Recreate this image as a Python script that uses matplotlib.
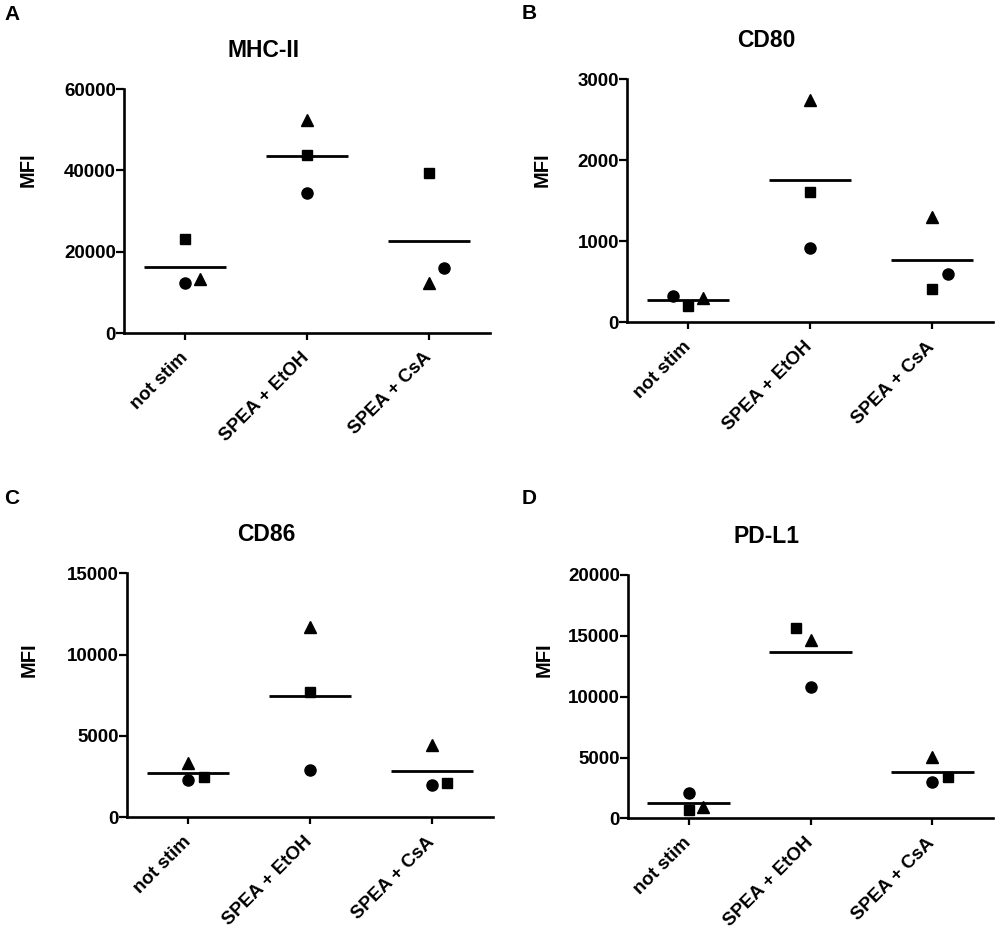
import numpy as np
from matplotlib import pyplot as plt

plt.rcParams['font.family'] = ['Liberation Sans', 'DejaVu Sans']
plt.rcParams['font.weight'] = 'bold'

groups = ['not stim', 'SPEA + EtOH', 'SPEA + CsA']

# MFI values per donor (circle, square, triangle) for each group
mhc_circle = [12200, 34500, 16100]
mhc_square = [23100, 43800, 39300]
mhc_triangle = [13200, 52400, 12400]

cd80_circle = [325, 912, 592]
cd80_square = [205, 1603, 411]
cd80_triangle = [303, 2742, 1302]

cd86_circle = [2290, 2910, 1990]
cd86_square = [2500, 7690, 2090]
cd86_triangle = [3320, 11690, 4450]

pdl1_circle = [2050, 10770, 3010]
pdl1_square = [700, 15620, 3420]
pdl1_triangle = [950, 14660, 5065]

mhc_ticks = [0, 20000, 40000, 60000]
cd80_ticks = [0, 1000, 2000, 3000]
cd86_ticks = [0, 5000, 10000, 15000]
pdl1_ticks = [0, 5000, 10000, 15000, 20000]

panels = [
    ('A', 'MHC-II', mhc_circle, mhc_square, mhc_triangle, mhc_ticks),
    ('B', 'CD80', cd80_circle, cd80_square, cd80_triangle, cd80_ticks),
    ('C', 'CD86', cd86_circle, cd86_square, cd86_triangle, cd86_ticks),
    ('D', 'PD-L1', pdl1_circle, pdl1_square, pdl1_triangle, pdl1_ticks),
]

# layout: axes rectangles, letter positions, y label positions, point nudges
rects = [
    [0.124, 0.6423, 0.366, 0.2621],
    [0.627, 0.6538, 0.366, 0.2613],
    [0.127, 0.1221, 0.366, 0.2621],
    [0.628, 0.1210, 0.365, 0.2614],
]
letter_pos = [(0.012, 0.984), (0.529, 0.985), (0.012, 0.465), (0.529, 0.465)]
ylabel_pos = [(-0.235, 0.668), (-0.205, 0.626), (-0.242, 0.645), (-0.205, 0.65)]
# horizontal nudges (circle, square, triangle) so overlapping points sit side by side
nudges = [
    ([0, 0, 0.12], [0, 0, 0], [0.12, 0, 0]),
    ([-0.12, 0, 0.12], [0, 0, 0], [0.13, 0, 0]),
    ([0, 0.13, 0], [0, 0, 0], [0, 0.12, 0]),
    ([0, 0, 0.12], [0, -0.12, 0], [0, 0.13, 0]),
]

fig = plt.figure(figsize=(10, 9.31), dpi=100)

for k, (letter, title, circ, sq, tri, ticks) in enumerate(panels):
    ax = fig.add_axes(rects[k])
    x = np.arange(len(groups))
    vals = np.array([circ, sq, tri], dtype=float)
    markers = ['o', 's', '^']
    sizes = [8, 7.5, 8]
    for j in range(3):
        off = np.array([nudges[k][g][j] for g in range(3)])
        ax.plot(x + off, vals[j], linestyle='none', marker=markers[j],
                markersize=sizes[j], color='black')
    means = vals.mean(axis=0)
    ax.hlines(means, x - 0.34, x + 0.34, colors='black', linewidth=2)

    ax.set_xlim(-0.5, 2.5)
    ax.set_ylim(0, ticks[-1])
    ax.set_yticks(ticks)
    ax.set_yticklabels([str(t) for t in ticks])
    ax.set_xticks(x)
    ax.set_xticklabels(groups, rotation=45, ha='right', va='center',
                       rotation_mode='anchor')
    ax.spines['top'].set_visible(False)
    ax.spines['right'].set_visible(False)
    ax.spines['left'].set_linewidth(1.9)
    ax.spines['bottom'].set_linewidth(1.9)
    ax.spines['left'].set_bounds(0, ticks[-1])
    ax.tick_params(axis='y', length=5.5, width=1.6, pad=0.3, labelsize=13.5)
    ax.tick_params(axis='x', length=5, width=1.6, pad=11, labelsize=13.5)
    for lab in ax.get_xticklabels() + ax.get_yticklabels():
        lab.set_fontweight('bold')

    ax.set_ylabel('MFI', fontsize=14.5, fontweight='bold')
    ax.yaxis.set_label_coords(*ylabel_pos[k])
    ax.text(0.38, 1.157, title, transform=ax.transAxes, ha='center',
            va='center', fontsize=16.5, fontweight='bold')
    fig.text(letter_pos[k][0], letter_pos[k][1], letter, ha='center',
             va='center', fontsize=15, fontweight='bold')

plt.savefig('out.png', dpi=100)
